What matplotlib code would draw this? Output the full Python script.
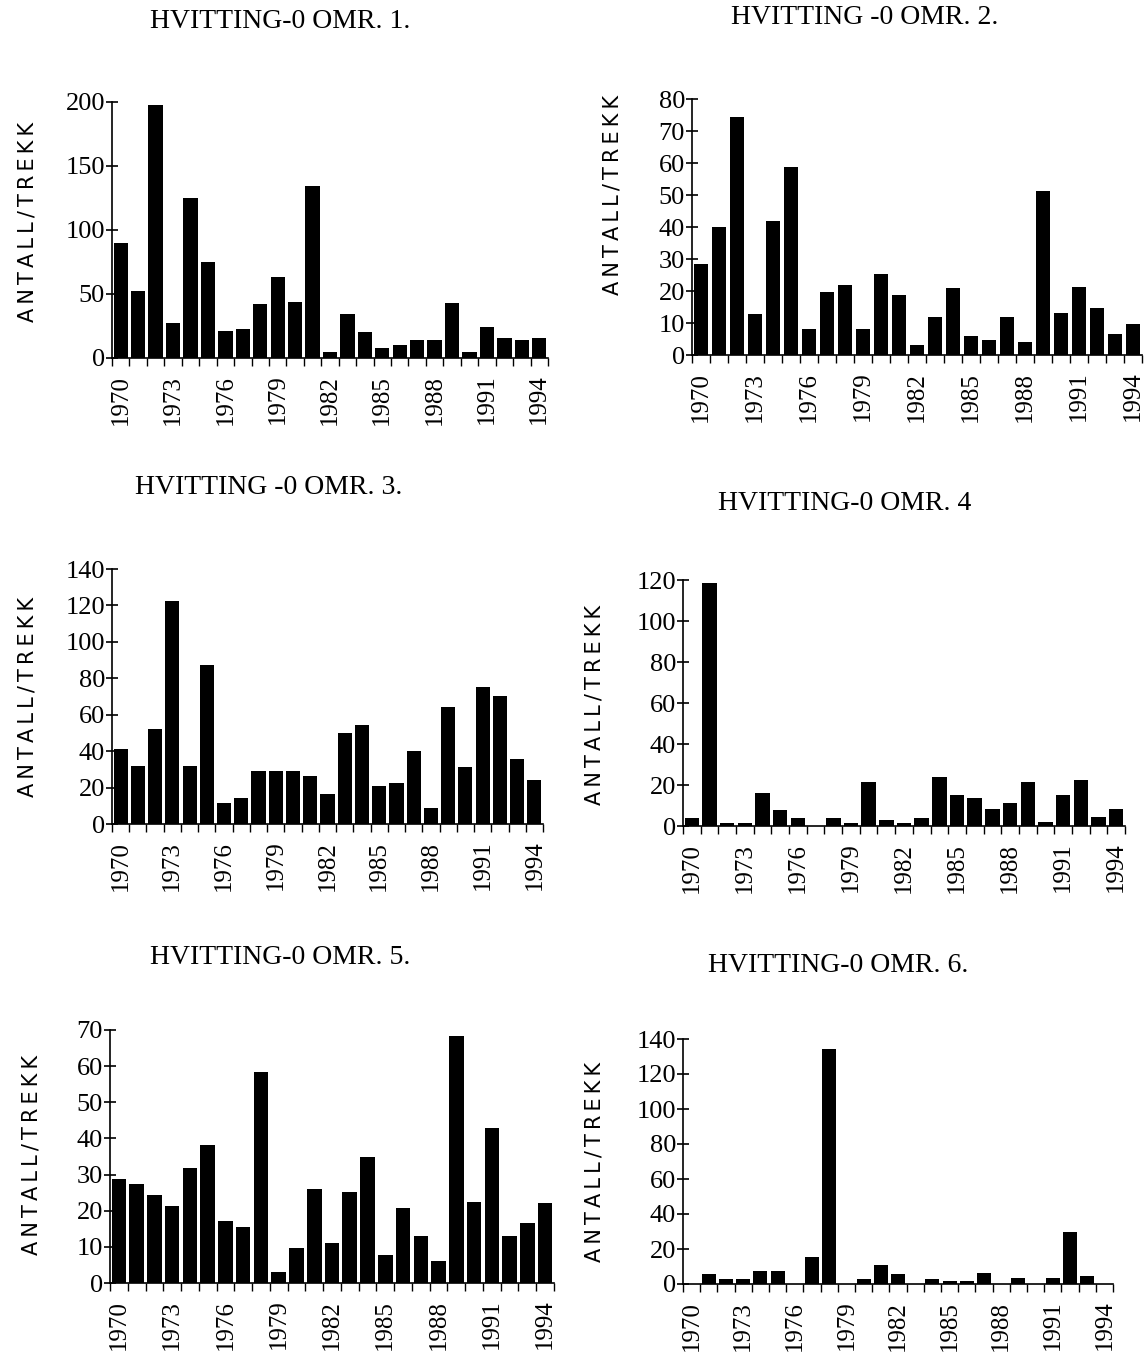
import matplotlib.pyplot as plt
import numpy as np

years = list(range(1970, 1995))
year_labels = [str(y) for y in years[::3]]

# Antall/trekk per omraade, lest av figuren
omr1 = [90, 52, 198, 27, 125, 75, 21, 23, 42, 63, 44, 134, 5, 34, 20, 8, 10, 14, 14, 43, 5, 24, 16, 14, 16]
omr2 = [28.5, 40, 74.5, 12.7, 42, 58.6, 8, 19.6, 21.9, 8, 25.3, 18.6, 3, 12, 21, 6, 4.7, 12, 4, 51.2, 13, 21.2, 14.7, 6.5, 9.8]
omr3 = [41, 32, 52, 122.5, 32, 87.5, 11.5, 14.5, 29, 29, 29, 26.5, 16.5, 50, 54.5, 21, 22.5, 40, 9, 64.5, 31.5, 75, 70.5, 35.5, 24]
omr4 = [4, 118.5, 1.5, 1.5, 16, 8, 4, 0, 4, 1.5, 21.5, 3, 1.5, 4, 24, 15, 13.5, 8.5, 11, 21.5, 2, 15, 22.5, 4.5, 8.5]
omr5 = [28.7, 27.3, 24.3, 21.4, 31.8, 38.3, 17.2, 15.6, 58.5, 3, 9.8, 26, 11.2, 25.2, 35, 7.8, 20.8, 12.9, 6.1, 68.4, 22.5, 43, 12.9, 16.5, 22]
omr6 = [0, 6, 3, 3, 7.5, 7.5, 0, 15.5, 134.5, 0, 3, 11, 6, 0, 3, 1.5, 1.5, 6.5, 0, 3.2, 0, 3.2, 29.5, 4.8, 0]

titles = ["HVITTING-0 OMR. 1.", "HVITTING -0 OMR. 2.", "HVITTING -0 OMR. 3.",
          "HVITTING-0 OMR. 4", "HVITTING-0 OMR. 5.", "HVITTING-0 OMR. 6."]
series = [omr1, omr2, omr3, omr4, omr5, omr6]
ymax = [200, 80, 140, 120, 70, 140]
ystep = [50, 10, 20, 20, 10, 20]

W, H = 1146, 1361
# left, right, top, bottom (pixels)
boxes = [(112, 548, 102, 358), (692, 1142, 99, 355),
         (112, 543, 569, 824), (683, 1125, 580, 826),
         (110, 554, 1030, 1283), (683, 1113, 1039, 1284)]
title_pos = [(280, 22), (865, 18), (269, 488), (845, 503), (280, 957), (838, 965)]
ylab_pos = [(28, 222), (612, 195), (28, 697), (594, 705), (32, 1155), (594, 1162)]

serif = "Liberation Serif"

fig = plt.figure(figsize=(W / 100, H / 100), dpi=100)

for i, vals in enumerate(series):
    l, r, t, b = boxes[i]
    ax = fig.add_axes([l / W, 1 - b / H, (r - l) / W, (b - t) / H])
    x = np.arange(len(years))
    ax.bar(x, vals, width=0.82, color="black")
    ax.set_xlim(-0.5, len(years) - 0.5)
    ax.set_ylim(0, ymax[i])
    ax.set_yticks(np.arange(0, ymax[i] + 1, ystep[i]))
    ax.set_xticks(x[::3])
    ax.set_xticklabels(year_labels, rotation=90, fontfamily=serif, fontsize=18)
    ax.set_xticks(np.arange(-0.5, len(years), 1), minor=True)
    ax.tick_params(axis="x", which="major", length=0, pad=12)
    ax.tick_params(axis="x", which="minor", length=6, direction="out", width=1)
    ax.tick_params(axis="y", length=8, direction="inout", width=1.2, labelsize=19, pad=1)
    for lab in ax.get_yticklabels():
        lab.set_fontfamily(serif)
    ax.spines["top"].set_visible(False)
    ax.spines["right"].set_visible(False)
    ax.spines["left"].set_linewidth(1.2)
    ax.spines["bottom"].set_linewidth(1.2)

    tx, ty = title_pos[i]
    fig.text(tx / W, 1 - ty / H, titles[i], ha="center", va="center",
             fontfamily=serif, fontsize=20)
    lx, ly = ylab_pos[i]
    fig.text(lx / W, 1 - ly / H, "A N T A L L / T R E K K".replace(" ", "\u2009"),
             rotation=90, ha="center", va="center",
             fontfamily="DejaVu Sans", fontsize=15)

plt.savefig("out.png", dpi=100)
